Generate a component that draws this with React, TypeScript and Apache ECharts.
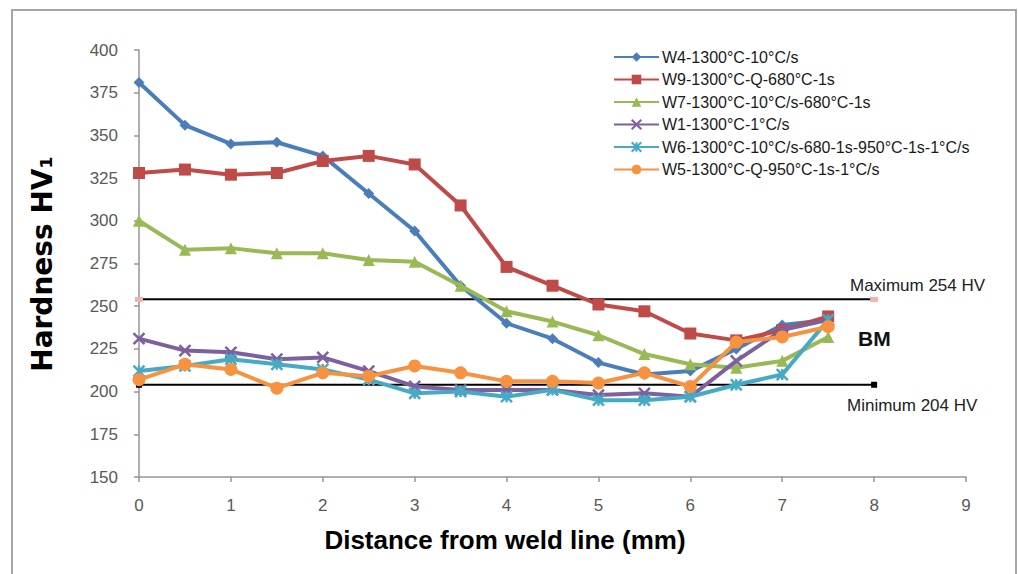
import React, { useEffect, useRef } from "react";
import * as echarts from "echarts";

const distances = [0, 0.5, 1, 1.5, 2, 2.5, 3, 3.5, 4, 4.5, 5, 5.5, 6, 6.5, 7, 7.5];

const seriesNames = [
  "W4-1300°C-10°C/s",
  "W9-1300°C-Q-680°C-1s",
  "W7-1300°C-10°C/s-680°C-1s",
  "W1-1300°C-1°C/s",
  "W6-1300°C-10°C/s-680-1s-950°C-1s-1°C/s",
  "W5-1300°C-Q-950°C-1s-1°C/s",
];

const w4 = [381, 356, 345, 346, 338, 316, 294, 262, 240, 231, 217, 210, 212, 225, 239, 242];
const w9 = [328, 330, 327, 328, 335, 338, 333, 309, 273, 262, 251, 247, 234, 230, 236, 244];
const w7 = [300, 283, 284, 281, 281, 277, 276, 262, 247, 241, 233, 222, 216, 214, 218, 232];
const w1 = [231, 224, 223, 219, 220, 212, 203, 201, 201, 201, 198, 199, 197, 218, 236, 242];
const w6 = [212, 215, 219, 216, 213, 207, 199, 200, 197, 201, 195, 195, 197, 204, 210, 242];
const w5 = [207, 216, 213, 202, 211, 209, 215, 211, 206, 206, 205, 211, 203, 229, 232, 238];

const limitX = [0, 8];
const maxLimit = 254;
const minLimit = 204;

const xTicks = { min: 0, max: 9, interval: 1 };
const yTicks = { min: 150, max: 400, interval: 25 };

const colors = ["#4A7EBB", "#BE4B48", "#98B954", "#7D60A0", "#46AAC5", "#F69240"];
const symbols = [
  "diamond",
  "rect",
  "triangle",
  "path://M0,0L10,10M10,0L0,10",
  "path://M0,0L10,10M10,0L0,10M5,0L5,10",
  "circle",
];
const symbolSizes = [11, 12, 12, 11, 11, 13];

const allValues = [w4, w9, w7, w1, w6, w5];

export default function App() {
  const ref = useRef<HTMLDivElement>(null);
  useEffect(() => {
    if (!ref.current) return;
    const chart = echarts.init(ref.current, null, { renderer: "svg" });
    const font = "'Liberation Sans', Arial, sans-serif";
    const dataSeries = allValues.map((vals, i) => ({
      name: seriesNames[i],
      type: "line",
      data: distances.map((d, j) => [d, vals[j]]),
      symbol: symbols[i],
      symbolSize: symbolSizes[i],
      showAllSymbol: true,
      lineStyle: { color: colors[i], width: 4 },
      itemStyle: {
        color: colors[i],
        borderColor: colors[i],
        borderWidth: i === 3 || i === 4 ? 2.5 : 0,
      },
      z: 3 + i,
    }));
    const option = {
      animation: false,
      backgroundColor: "#ffffff",
      grid: { left: 139, right: 52, top: 50, bottom: 97 },
      xAxis: {
        type: "value",
        min: xTicks.min,
        max: xTicks.max,
        interval: xTicks.interval,
        axisLine: { show: true, lineStyle: { color: "#959595", width: 1.5 } },
        axisTick: { show: true, length: 5, lineStyle: { color: "#959595", width: 1.5 } },
        axisLabel: { color: "#595959", fontSize: 17, fontFamily: font, margin: 20 },
        splitLine: { show: false },
      },
      yAxis: {
        type: "value",
        min: yTicks.min,
        max: yTicks.max,
        interval: yTicks.interval,
        axisLine: { show: true, lineStyle: { color: "#959595", width: 1.5 } },
        axisTick: { show: true, length: 5, lineStyle: { color: "#959595", width: 1.5 } },
        axisLabel: { color: "#595959", fontSize: 17, fontFamily: font, margin: 21 },
        splitLine: { show: false },
      },
      legend: {
        data: seriesNames,
        orient: "vertical",
        left: 608,
        top: 44,
        itemWidth: 45,
        itemHeight: 12,
        itemGap: 6.5,
        textStyle: { fontSize: 16, color: "#1a1a1a", fontFamily: font, padding: [0, 0, 0, -2] },
      },
      series: [
        ...dataSeries,
        {
          name: "max",
          type: "line",
          data: limitX.map((x) => [x, maxLimit]),
          symbol: "rect",
          symbolSize: [8, 5],
          lineStyle: { color: "#000000", width: 2 },
          itemStyle: { color: "#F2B2B0" },
          z: 2,
        },
        {
          name: "min",
          type: "line",
          data: limitX.map((x) => [x, minLimit]),
          symbol: "rect",
          symbolSize: 6,
          lineStyle: { color: "#000000", width: 2 },
          itemStyle: { color: "#000000" },
          z: 2,
        },
      ],
      graphic: [
        {
          type: "rect",
          shape: { x: 12, y: 10, width: 1004, height: 620 },
          style: { fill: "none", stroke: "#A6A6A6", lineWidth: 2 },
          z: 0,
        },
        {
          type: "text",
          x: 42,
          y: 264,
          rotation: Math.PI / 2,
          style: {
            text: "Hardness HV₁",
            font: "bold 28px 'DejaVu Sans', sans-serif",
            fill: "#000000",
            textAlign: "center",
            textVerticalAlign: "middle",
          },
        },
        {
          type: "text",
          x: 505,
          y: 540,
          style: {
            text: "Distance from weld line (mm)",
            font: "bold 26px 'Liberation Sans', Arial, sans-serif",
            fill: "#000000",
            textAlign: "center",
            textVerticalAlign: "middle",
          },
        },
        {
          type: "text",
          x: 850,
          y: 285,
          style: {
            text: "Maximum 254 HV",
            font: "17px 'Liberation Sans', Arial, sans-serif",
            fill: "#222222",
            textAlign: "left",
            textVerticalAlign: "middle",
          },
        },
        {
          type: "text",
          x: 847,
          y: 405,
          style: {
            text: "Minimum 204 HV",
            font: "17px 'Liberation Sans', Arial, sans-serif",
            fill: "#222222",
            textAlign: "left",
            textVerticalAlign: "middle",
          },
        },
        {
          type: "text",
          x: 858,
          y: 338,
          style: {
            text: "BM",
            font: "bold 21px 'Liberation Sans', Arial, sans-serif",
            fill: "#111111",
            textAlign: "left",
            textVerticalAlign: "middle",
          },
        },
      ],
    };
    chart.setOption(option as any);
    return () => chart.dispose();
  }, []);
  return (
    <div
      ref={ref}
      style={{ position: "fixed", left: 0, top: 0, width: 1018, height: 574, background: "#fff" }}
    />
  );
}
